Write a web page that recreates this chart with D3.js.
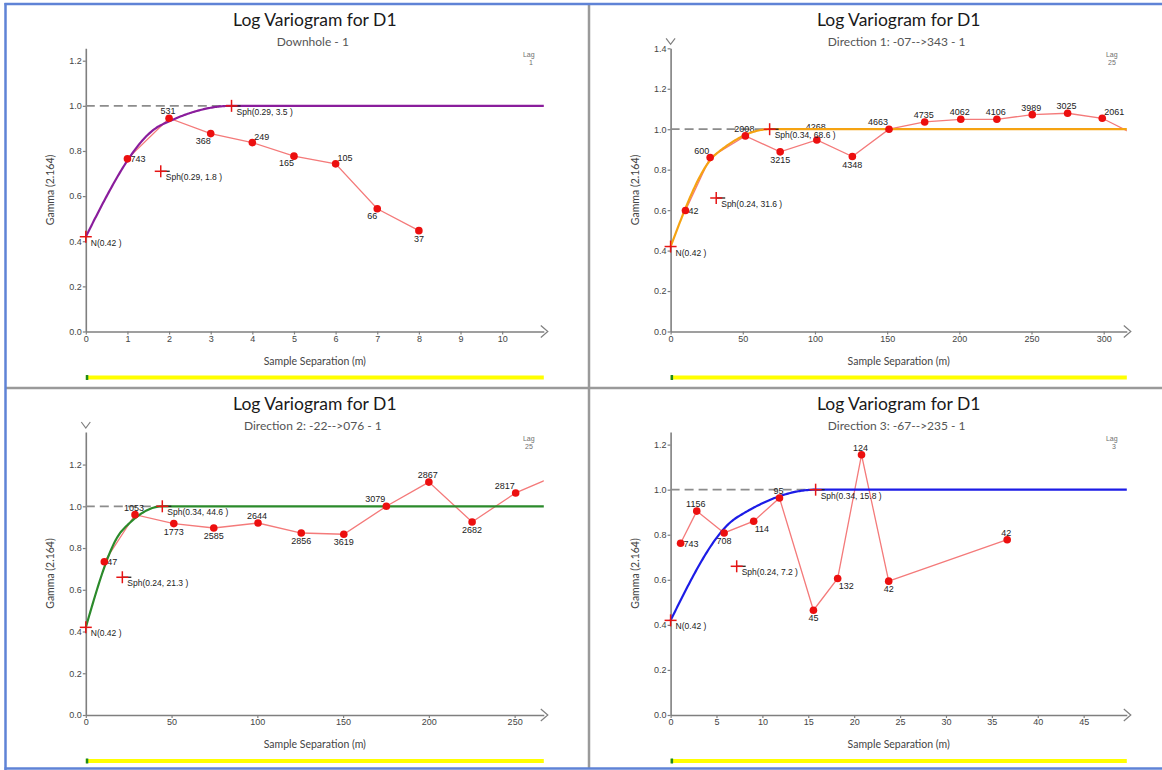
<!DOCTYPE html>
<html><head><meta charset="utf-8">
<script src="https://cdn.jsdelivr.net/npm/d3@7"></script>
<style>body{margin:0;background:#fff;} svg{display:block;}</style>
</head><body>
<svg id="chart" width="1162" height="770"></svg>
<script>
// ---------- data ----------
const titles = ["Log  Variogram for D1", "Log  Variogram for D1", "Log  Variogram for D1", "Log  Variogram for D1"];
const subtitles = ["Downhole - 1", "Direction 1: -07-->343 - 1", "Direction 2: -22-->076 - 1", "Direction 3: -67-->235 - 1"];
const lagSizes = ["1", "25", "25", "3"];
const xLabel = "Sample Separation (m)";
const yLabel = "Gamma (2.164)";
const xMaxes = [11, 316, 267, 49.7];
const yMaxes = [1.255, 1.4, 1.356, 1.256];
const xTicks = [
  [0,1,2,3,4,5,6,7,8,9,10],
  [0,50,100,150,200,250,300],
  [0,50,100,150,200,250],
  [0,5,10,15,20,25,30,35,40,45]
];
const yTicks = [
  [0,0.2,0.4,0.6,0.8,1.0,1.2],
  [0,0.2,0.4,0.6,0.8,1.0,1.2,1.4],
  [0,0.2,0.4,0.6,0.8,1.0,1.2],
  [0,0.2,0.4,0.6,0.8,1.0,1.2]
];
const yOverflow = [false, true, true, false];

// experimental variograms
const dhLag   = [1, 2, 3, 4, 5, 6, 7, 8];
const dhGamma = [0.765, 0.945, 0.877, 0.837, 0.777, 0.743, 0.544, 0.447];
const dhPairs = ["743","531","368","249","165","105","66","37"];
const dhLabelAt = ["r","a","bl","ar","bl","ar","bl","b"];

const d1Lag   = [10.3, 27.4, 51.8, 75.9, 101.3, 125.9, 151.3, 176, 201, 226, 250.5, 275, 299, 325];
const d1Gamma = [0.598, 0.860, 0.967, 0.888, 0.947, 0.865, 1.0, 1.036, 1.049, 1.049, 1.072, 1.079, 1.054, 0.96];
const d1Pairs = ["42","600","2008","3215","4268","4348","4663","4735","4062","4106","3989","3025","2061",""];
const d1LabelAt = ["r","al","a","b","ah","b","al","a","a","a","a","a","ar","a"];

const d2Lag   = [10.8, 28.7, 51.3, 74.6, 100.4, 125.6, 150.4, 175.2, 200, 225.2, 250.6, 275.5];
const d2Gamma = [0.734, 0.960, 0.917, 0.896, 0.920, 0.872, 0.866, 1.0, 1.116, 0.925, 1.064, 1.152];
const d2Pairs = ["47","1053","1773","2585","2644","2856","3619","3079","2867","2682","2817",""];
const d2LabelAt = ["r","a","b","b","a","b","b","al","a","b","al","a"];

const d3Lag   = [1.09, 2.85, 5.83, 9.05, 11.86, 15.56, 18.2, 20.8, 23.76, 36.67];
const d3Gamma = [0.762, 0.905, 0.808, 0.860, 0.963, 0.465, 0.606, 1.155, 0.594, 0.778];
const d3Pairs = ["743","1156","708","114","95","45","132","124","42","42"];
const d3LabelAt = ["r","a","b","br","a","b","br","a","b","a"];

// fitted models: nugget + two spherical structures
const nuggets  = [0.42, 0.42, 0.42, 0.42];
const sph1Sill = [0.29, 0.24, 0.24, 0.24];
const sph1Range = [1.8, 31.6, 21.3, 7.2];
const sph2Sill = [0.29, 0.34, 0.34, 0.34];
const sph2Range = [3.5, 68.6, 44.6, 15.8];
const modelColors = ["#8a1d9c", "#f5a312", "#2b8a2b", "#1c1ce6"];

// ---------- layout ----------
const cols = [{x0: 85.8, x1: 543.8}, {x0: 670.6, x1: 1126.8}];
const rows = [{top: 48.3, bottom: 331.5}, {top: 432, bottom: 715}];
const expData = [
  {lag: dhLag, gamma: dhGamma, pairs: dhPairs, pos: dhLabelAt},
  {lag: d1Lag, gamma: d1Gamma, pairs: d1Pairs, pos: d1LabelAt},
  {lag: d2Lag, gamma: d2Gamma, pairs: d2Pairs, pos: d2LabelAt},
  {lag: d3Lag, gamma: d3Gamma, pairs: d3Pairs, pos: d3LabelAt}
];

const svg = d3.select("#chart");
svg.append("rect").attr("width", 1162).attr("height", 770).attr("fill", "#fff");

const sph = (h, a) => h >= a ? 1 : 1.5 * (h / a) - 0.5 * Math.pow(h / a, 3);
const fmt1 = d3.format(".1f");
const axisColor = "#7f7f7f";
const fontSmall = "'Liberation Sans', Arial, sans-serif";
const fontTitle = "Lato, 'Open Sans', sans-serif";

for (let p = 0; p < 4; p++) {
  const c = cols[p % 2], r = rows[Math.floor(p / 2)];
  const x = d3.scaleLinear().domain([0, xMaxes[p]]).range([c.x0, c.x1]);
  const y = d3.scaleLinear().domain([0, yMaxes[p]]).range([r.bottom, r.top]);
  const g = svg.append("g");
  const cx = (c.x0 + c.x1) / 2;

  const clipId = "clip" + p;
  g.append("clipPath").attr("id", clipId).append("rect")
    .attr("x", c.x0 - 8).attr("y", r.top - 30).attr("width", c.x1 - c.x0 + 8).attr("height", r.bottom - r.top + 40);

  // titles
  g.append("text").attr("x", cx).attr("y", r.top - 22).attr("text-anchor", "middle")
    .attr("font-family", fontTitle).attr("font-size", 17.5).attr("fill", "#1a1a1a").text(titles[p]);
  g.append("text").attr("x", cx - 2).attr("y", r.top - 2).attr("text-anchor", "middle")
    .attr("font-family", fontTitle).attr("font-size", 12).attr("fill", "#555").text(subtitles[p]);

  // lag note
  g.append("text").attr("x", c.x1 - 15).attr("y", r.top + 9).attr("text-anchor", "middle")
    .attr("font-family", fontSmall).attr("font-size", 7).attr("fill", "#707070").text("Lag");
  g.append("text").attr("x", c.x1 - 11).attr("y", r.top + 17).attr("text-anchor", "end")
    .attr("font-family", fontSmall).attr("font-size", 7).attr("fill", "#707070").text(lagSizes[p]);

  // axes
  const yAxis = g.append("g").attr("transform", `translate(${c.x0},0)`)
    .call(d3.axisLeft(y).tickValues(yTicks[p]).tickSize(3).tickSizeOuter(0).tickPadding(1).tickFormat(fmt1));
  const xAxis = g.append("g").attr("transform", `translate(0,${r.bottom})`)
    .call(d3.axisBottom(x).tickValues(xTicks[p]).tickSize(3).tickSizeOuter(0).tickPadding(1).tickFormat(d3.format("d")));
  [yAxis, xAxis].forEach(a => {
    a.select(".domain").attr("stroke", axisColor).attr("stroke-width", 1.6);
    a.selectAll(".tick line").attr("stroke", axisColor).attr("stroke-width", 1.2);
    a.selectAll(".tick text").attr("fill", "#444").attr("font-family", fontSmall).attr("font-size", 9);
  });
  // x-axis arrow
  g.append("path").attr("d", `M${c.x1 - 3},${r.bottom - 6}L${c.x1 + 4},${r.bottom}L${c.x1 - 3},${r.bottom + 6}`)
    .attr("fill", "none").attr("stroke", axisColor).attr("stroke-width", 1.2);
  if (yOverflow[p]) {
    g.append("path").attr("d", `M${c.x0 - 4.5},${r.top - 10}L${c.x0},${r.top - 4}L${c.x0 + 4.5},${r.top - 10}`)
      .attr("fill", "none").attr("stroke", axisColor).attr("stroke-width", 1.2);
  }

  // axis titles
  g.append("text").attr("x", cx).attr("y", r.bottom + 33).attr("text-anchor", "middle")
    .attr("font-family", fontTitle).attr("font-size", 10.5).attr("fill", "#444").text(xLabel);
  g.append("text").attr("transform", `translate(${c.x0 - 32},${(r.top + r.bottom) / 2}) rotate(-90)`)
    .attr("text-anchor", "middle").attr("font-family", fontTitle).attr("font-size", 10.5).attr("fill", "#444").text(yLabel);

  // bottom progress bar
  g.append("rect").attr("x", c.x0).attr("y", r.bottom + 44).attr("width", c.x1 - c.x0).attr("height", 4).attr("fill", "#ffff00");
  g.append("rect").attr("x", c.x0).attr("y", r.bottom + 43.5).attr("width", 2.5).attr("height", 5).attr("fill", "#1e8a1e");

  const total = nuggets[p] + sph1Sill[p] + sph2Sill[p];
  // sill dashed line
  g.append("line").attr("x1", x(0)).attr("x2", x(sph2Range[p])).attr("y1", y(total)).attr("y2", y(total))
    .attr("stroke", "#8c8c8c").attr("stroke-width", 1.8).attr("stroke-dasharray", "9,5");

  const e = expData[p];
  const pts = e.lag.map((l, i) => ({l, gm: e.gamma[i], n: e.pairs[i], pos: e.pos[i]}));
  // experimental line
  g.append("path").datum(pts).attr("clip-path", `url(#${clipId})`)
    .attr("d", d3.line().x(d => x(d.l)).y(d => y(d.gm)))
    .attr("fill", "none").attr("stroke", "#f47a7a").attr("stroke-width", 1.3);

  // point labels
  const visible = pts.filter(d => d.l <= xMaxes[p]);
  visible.forEach(d => {
    const px = x(d.l), py = y(d.gm);
    let tx = px, ty = py, anchor = "middle";
    if (d.pos === "r")  { tx = px + 3; ty = py + 3.5; anchor = "start"; }
    if (d.pos === "a")  { tx = px - 1; ty = py - 4; }
    if (d.pos === "ah") { tx = px - 1; ty = py - 10; }
    if (d.pos === "b")  { tx = px; ty = py + 11; }
    if (d.pos === "ar") { tx = px + 2; ty = py - 3; anchor = "start"; }
    if (d.pos === "al") { tx = px - 1; ty = py - 4; anchor = "end"; }
    if (d.pos === "bl") { tx = px; ty = py + 10; anchor = "end"; }
    if (d.pos === "br") { tx = px + 1; ty = py + 11; anchor = "start"; }
    g.append("text").attr("x", tx).attr("y", ty).attr("text-anchor", anchor)
      .attr("font-family", fontSmall).attr("font-size", 9).attr("fill", "#222").text(d.n);
  });

  // model curve
  const hs = d3.range(0, 401).map(i => i / 400 * xMaxes[p]);
  g.append("path").datum(hs)
    .attr("d", d3.line().x(h => x(h)).y(h => y(nuggets[p] + sph1Sill[p] * sph(h, sph1Range[p]) + sph2Sill[p] * sph(h, sph2Range[p]))))
    .attr("fill", "none").attr("stroke", modelColors[p]).attr("stroke-width", 2.2);

  // experimental points
  g.selectAll("circle.pt").data(visible).join("circle")
    .attr("cx", d => x(d.l)).attr("cy", d => y(d.gm)).attr("r", 3.8).attr("fill", "#ec0f0f");

  // structure markers
  const markers = [
    {h: 0, gm: nuggets[p], label: `N(${nuggets[p].toFixed(2)} )`, black: false},
    {h: sph1Range[p], gm: nuggets[p] + sph1Sill[p], label: `Sph(${sph1Sill[p].toFixed(2)}, ${sph1Range[p].toFixed(1)} )`, black: true},
    {h: sph2Range[p], gm: total, label: `Sph(${sph2Sill[p].toFixed(2)}, ${sph2Range[p].toFixed(1)} )`, black: true}
  ];
  markers.forEach(m => {
    const mx = x(m.h), my = y(m.gm);
    if (m.black) {
      g.append("line").attr("x1", mx).attr("x2", mx + 9).attr("y1", my).attr("y2", my)
        .attr("stroke", "#222").attr("stroke-width", 1.3);
    }
    g.append("line").attr("x1", mx - 6).attr("x2", mx + 6).attr("y1", my).attr("y2", my)
      .attr("stroke", "#e61414").attr("stroke-width", 1.5);
    g.append("line").attr("x1", mx).attr("x2", mx).attr("y1", my - 6).attr("y2", my + 6)
      .attr("stroke", "#e61414").attr("stroke-width", 1.5);
    g.append("text").attr("x", mx + 5).attr("y", my + 9)
      .attr("font-family", fontSmall).attr("font-size", 8.5).attr("fill", "#222").text(m.label);
  });
}

// frame
svg.append("line").attr("x1", 589).attr("x2", 589).attr("y1", 5).attr("y2", 768).attr("stroke", "#9a9a9a").attr("stroke-width", 2.5);
svg.append("line").attr("x1", 6).attr("x2", 1162).attr("y1", 388).attr("y2", 388).attr("stroke", "#9a9a9a").attr("stroke-width", 2.5);
svg.append("line").attr("x1", 4.5).attr("x2", 1162).attr("y1", 4).attr("y2", 4).attr("stroke", "#5f83d6").attr("stroke-width", 2.5);
svg.append("line").attr("x1", 4.5).attr("x2", 1162).attr("y1", 768.5).attr("y2", 768.5).attr("stroke", "#5f83d6").attr("stroke-width", 2.5);
svg.append("line").attr("x1", 5.5).attr("x2", 5.5).attr("y1", 3).attr("y2", 770).attr("stroke", "#5f83d6").attr("stroke-width", 2.5);
</script>
</body></html>
